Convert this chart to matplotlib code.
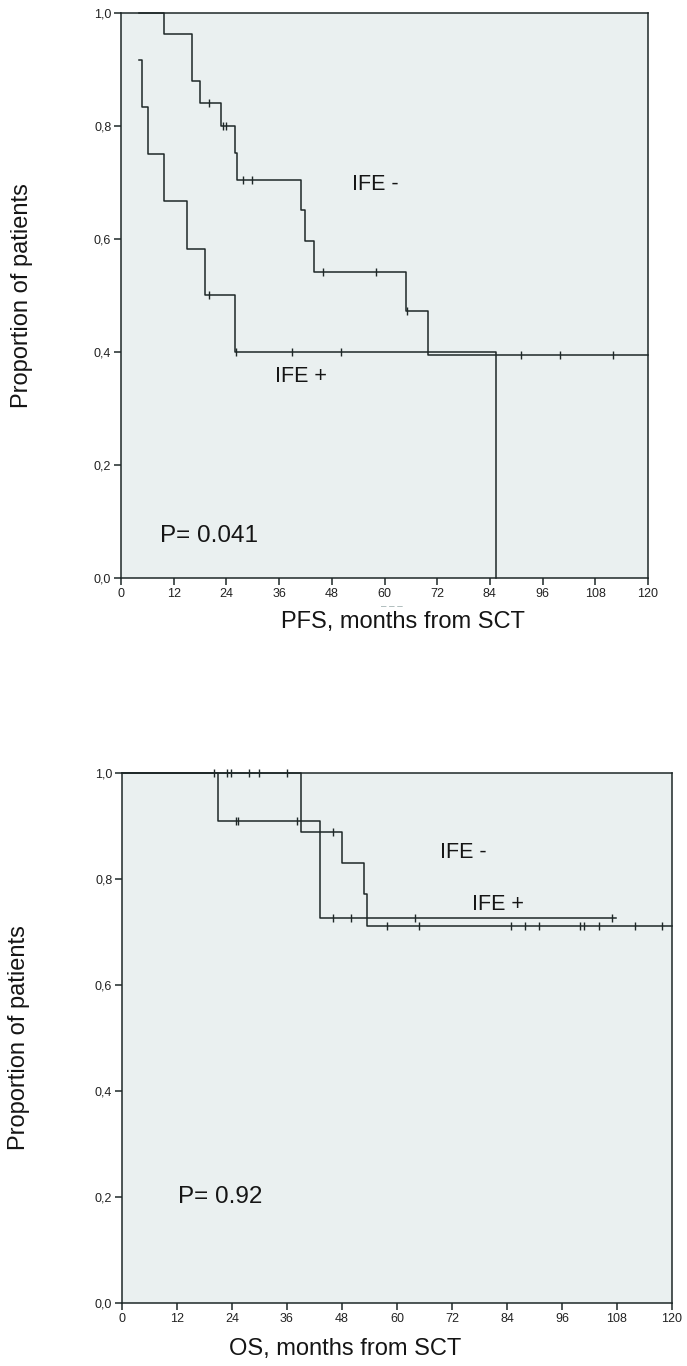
import numpy as np
import matplotlib
matplotlib.use("Agg")
import matplotlib.pyplot as plt
from matplotlib import font_manager as fm

# ---------------- data ----------------
# PFS (top panel)
pfs_neg_t = [4.0, 9.9, 16.1, 18.0, 22.8, 26.0, 26.5, 41.0, 42.0, 44.0, 64.8, 70.0, 120.0]
pfs_neg_s = [1.0, 0.962, 0.880, 0.840, 0.800, 0.752, 0.705, 0.651, 0.597, 0.541, 0.473, 0.395, 0.395]
pfs_neg_cens = [20.0, 23.2, 23.8, 27.8, 29.9, 46.1, 58.1, 65.2, 91.1, 100.0, 112.1]

pfs_pos_t = [4.0, 4.8, 6.2, 9.9, 15.1, 19.1, 25.9, 85.3]
pfs_pos_s = [0.917, 0.833, 0.750, 0.667, 0.583, 0.500, 0.400, 0.0]
pfs_pos_cens = [20.0, 26.1, 39.0, 50.1]

# OS (bottom panel)
os_neg_t = [0.0, 39.0, 48.0, 52.9, 53.4, 120.0]
os_neg_s = [1.0, 0.889, 0.831, 0.771, 0.711, 0.711]
os_neg_cens = [23.0, 23.8, 27.8, 29.8, 36.1, 46.0, 57.9, 64.9, 84.9, 87.9, 90.9,
               100.0, 100.8, 104.0, 111.9, 117.9]

os_pos_t = [0.0, 21.0, 43.1, 107.7]
os_pos_s = [1.0, 0.909, 0.727, 0.727]
os_pos_cens = [20.0, 24.8, 25.4, 38.1, 46.0, 50.0, 64.0, 107.0]

x_ticks = [0, 12, 24, 36, 48, 60, 72, 84, 96, 108, 120]
y_ticks = [0.0, 0.2, 0.4, 0.6, 0.8, 1.0]
y_tick_labels = ["0,0", "0,2", "0,4", "0,6", "0,8", "1,0"]

# ---------------- style ----------------
names = {f.name for f in fm.fontManager.ttflist}
main_font = "Liberation Sans" if "Liberation Sans" in names else "DejaVu Sans"
tick_font = "Liberation Sans Narrow" if "Liberation Sans Narrow" in names else main_font
plt.rcParams["font.family"] = [main_font, "DejaVu Sans"]

LINE = "#1e2828"
FACE = "#EAF0F0"
TXT = "#151515"

W, H = 687, 1366
fig = plt.figure(figsize=(W / 100, H / 100), dpi=100)


def px_axes(l, r, t, b):
    return fig.add_axes([l / W, 1 - b / H, (r - l) / W, (b - t) / H])


def surv_at(ts, ss, c):
    idx = np.searchsorted(np.asarray(ts), c, side="right") - 1
    idx = max(idx, 0)
    return ss[idx]


def km(ax, t, s, cens):
    ax.step(t, s, where="post", color=LINE, lw=1.1, zorder=3, clip_on=False)
    cy = [surv_at(t, s, c) for c in cens]
    ax.plot(cens, cy, linestyle="none", marker="|", markersize=6,
            markeredgewidth=1.0, color=LINE, zorder=4, clip_on=False)


def style(ax):
    ax.set_facecolor(FACE)
    ax.set_xlim(0, 120)
    ax.set_ylim(0, 1)
    ax.set_xticks(x_ticks)
    ax.set_xticklabels([str(v) for v in x_ticks], fontfamily=tick_font,
                       fontsize=9, color="#222")
    ax.set_yticks(y_ticks)
    ax.set_yticklabels(y_tick_labels, fontfamily=tick_font, fontsize=9,
                       color="#222")
    ax.tick_params(direction="out", length=5, width=1.1, color=LINE, pad=2)
    for sp in ax.spines.values():
        sp.set_color(LINE)
        sp.set_linewidth(1.1)


def ylabel(ax):
    ax.text(-0.188, 0.5, "Proportion of patients", fontsize=17, color=TXT,
            rotation=90, ha="center", va="center", transform=ax.transAxes)


# ---- top panel: PFS ----
ax1 = px_axes(121, 648, 13, 578)
style(ax1)
ylabel(ax1)
km(ax1, pfs_neg_t, pfs_neg_s, pfs_neg_cens)
km(ax1, pfs_pos_t, pfs_pos_s, pfs_pos_cens)
ax1.text(52.6, 0.696, "IFE -", fontsize=15.5, va="center", ha="left", color=TXT)
ax1.text(35.1, 0.356, "IFE +", fontsize=15.5, va="center", ha="left", color=TXT)
ax1.text(8.9, 0.074, "P= 0.041", fontsize=17.5, va="center", ha="left", color=TXT)
ax1.text(61.7, -0.05, "‒ ‒ ‒", fontsize=7, ha="center", va="center",
         color="#9aa", clip_on=False)
ax1.text(64.2, -0.078, "PFS, months from SCT", fontsize=17, ha="center",
         va="center", color=TXT, clip_on=False)

# ---- bottom panel: OS ----
ax2 = px_axes(122, 672, 773, 1303)
style(ax2)
ylabel(ax2)
km(ax2, os_neg_t, os_neg_s, os_neg_cens)
km(ax2, os_pos_t, os_pos_s, os_pos_cens)
ax2.text(69.4, 0.85, "IFE -", fontsize=15.5, va="center", ha="left", color=TXT)
ax2.text(76.4, 0.751, "IFE +", fontsize=15.5, va="center", ha="left", color=TXT)
ax2.text(12.2, 0.2, "P= 0.92", fontsize=17.5, va="center", ha="left", color=TXT)
ax2.text(48.7, -0.086, "OS, months from SCT", fontsize=17, ha="center",
         va="center", color=TXT, clip_on=False)

fig.savefig("out.png", dpi=100, facecolor="white")
